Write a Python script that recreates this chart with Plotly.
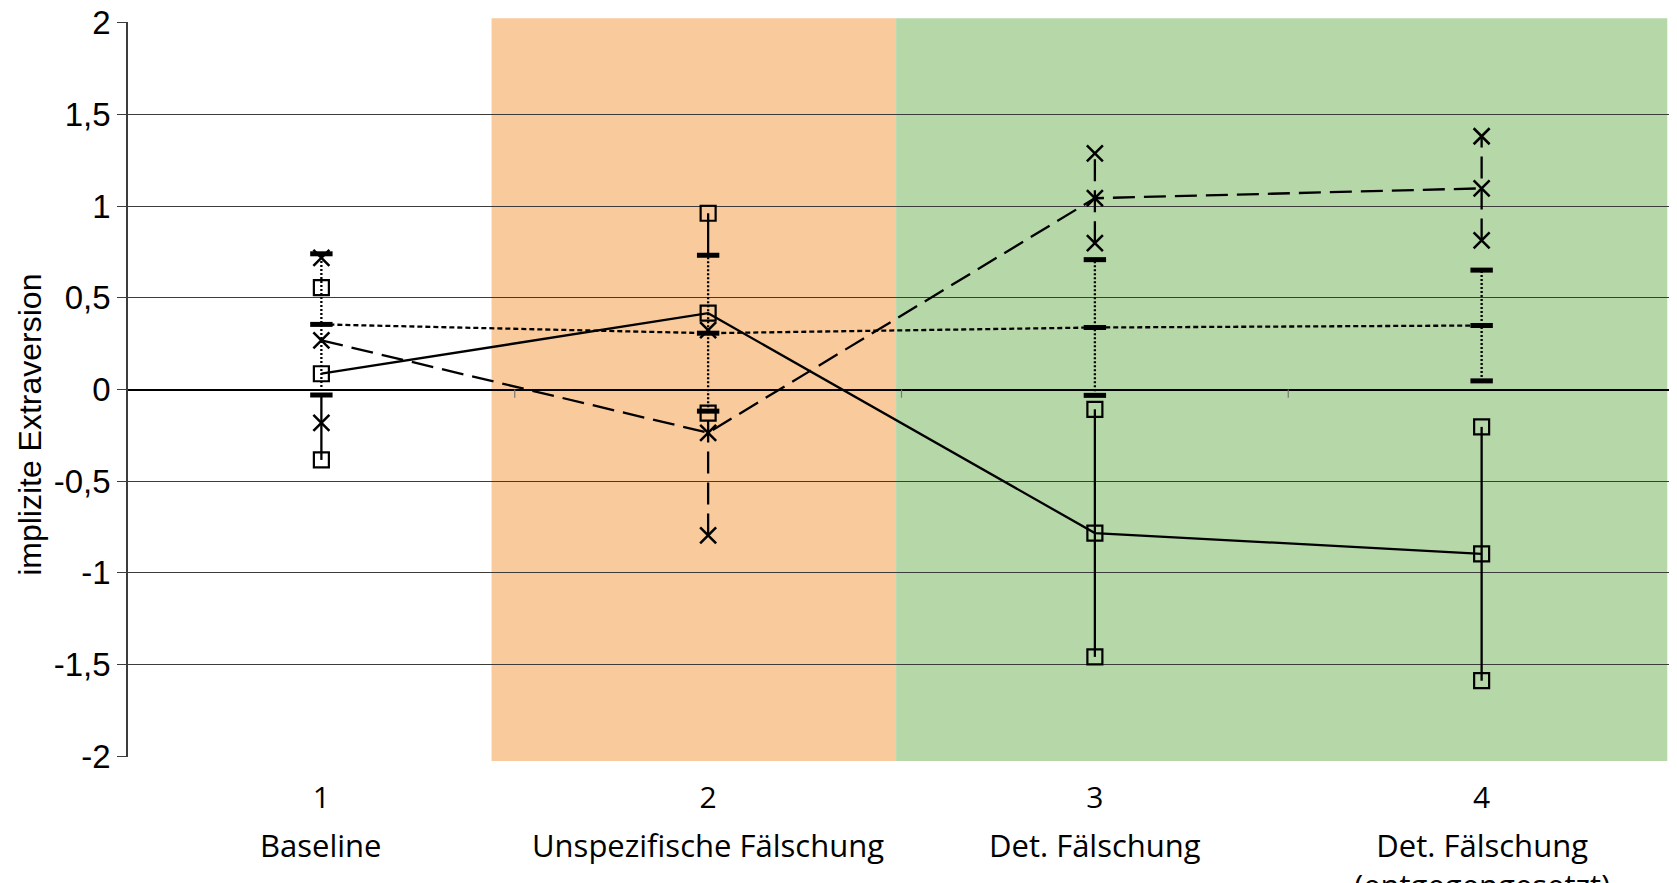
import plotly.graph_objects as go

# conditions on the x axis
categories = [1, 2, 3, 4]
category_names = ["Baseline", "Unspezifische Fälschung", "Det. Fälschung",
                  "Det. Fälschung<br>(entgegengesetzt)"]

# three groups: mean and (symmetric) error per condition
solid_mean = [0.086, 0.416, -0.783, -0.896]
solid_err = [0.47, 0.545, 0.675, 0.692]
dotted_mean = [0.355, 0.307, 0.338, 0.349]
dotted_err = [0.385, 0.425, 0.37, 0.302]
dashed_mean = [0.268, -0.236, 1.043, 1.097]
dashed_err = [0.45, 0.56, 0.245, 0.284]

y_tick_vals = [-2, -1.5, -1, -0.5, 0, 0.5, 1, 1.5, 2]
y_tick_text = ["-2", "-1,5", "-1", "-0,5", "0", "0,5", "1", "1,5", "2"]

# shaded phases (x range in category units)
phases = [(1.44, 2.486, "#f9cb9c"), (2.486, 4.48, "#b6d7a8")]

GRID = "#3c3c3c"
TICK_FONT = "Liberation Sans, Arial, sans-serif"
CAT_FONT = "Open Sans, DejaVu Sans, sans-serif"


def subtract(interval, covers):
    """Remove covered ranges from an interval, return the visible pieces."""
    pieces = [interval]
    for c0, c1 in covers:
        new = []
        for a, b in pieces:
            if c1 <= a or c0 >= b:
                new.append((a, b))
                continue
            if a < c0:
                new.append((a, c0))
            if c1 < b:
                new.append((c1, b))
        pieces = new
    return pieces


# series style, listed from top-most to bottom-most error bar
series = [
    dict(mean=dotted_mean, err=dotted_err, dash="5px,3px", bar_dash="2px,2px",
         symbol="line-ew-open", size=16, mlw=5),
    dict(mean=solid_mean, err=solid_err, dash="solid", bar_dash="solid",
         symbol="square-open", size=15, mlw=2.2),
    dict(mean=dashed_mean, err=dashed_err, dash="22px,9px", bar_dash="22px,9px",
         symbol="x-thin-open", size=16, mlw=2.5),
]

# visible parts of each error bar (upper series hide the ones below)
covers = {c: [] for c in categories}
for s in series:
    xs, ys = [], []
    for c, m, e in zip(categories, s["mean"], s["err"]):
        for a, b in subtract((m - e, m + e), covers[c]):
            xs += [c, c, None]
            ys += [a, b, None]
        covers[c].append((m - e, m + e))
    s["bar_x"], s["bar_y"] = xs, ys

fig = go.Figure()

for s in reversed(series):
    fig.add_trace(go.Scatter(
        x=s["bar_x"], y=s["bar_y"], mode="lines",
        line=dict(color="black", width=2.3, dash=s["bar_dash"]),
        hoverinfo="skip", showlegend=False,
    ))

for s in reversed(series):
    fig.add_trace(go.Scatter(
        x=categories, y=s["mean"], mode="lines+markers",
        line=dict(color="black", width=2.3, dash=s["dash"]),
        marker=dict(symbol=s["symbol"], size=s["size"], color="black",
                    line=dict(color="black", width=s["mlw"])),
        showlegend=False,
    ))
    ends_x = categories + categories
    ends_y = [m + e for m, e in zip(s["mean"], s["err"])] + \
             [m - e for m, e in zip(s["mean"], s["err"])]
    fig.add_trace(go.Scatter(
        x=ends_x, y=ends_y, mode="markers",
        marker=dict(symbol=s["symbol"], size=s["size"], color="black",
                    line=dict(color="black", width=s["mlw"])),
        showlegend=False,
    ))

# background phases
for x0, x1, col in phases:
    fig.add_shape(type="rect", xref="x", yref="paper", x0=x0, x1=x1,
                  y0=-0.0055, y1=1.005, fillcolor=col, line_width=0,
                  layer="below")

# small ticks on the zero line between the conditions
for b in [1.5, 2.5, 3.5]:
    fig.add_shape(type="line", xref="x", yref="y", x0=b, x1=b, y0=0, y1=-0.045,
                  line=dict(color="#777777", width=1.2))

# condition names under the numbers
for c, name in zip(categories, category_names):
    fig.add_annotation(x=c, y=-0.089, xref="x", yref="paper", text=name,
                       showarrow=False, yanchor="top",
                       font=dict(family=CAT_FONT, size=31, color="black"))

# y axis title, sits a little below the middle of the axis
fig.add_annotation(x=-0.0633, y=0.452, xref="paper", yref="paper",
                   text="implizite Extraversion", textangle=-90,
                   showarrow=False, xanchor="center", yanchor="middle",
                   font=dict(family=TICK_FONT, size=32, color="black"))

fig.update_layout(
    width=1677, height=883,
    margin=dict(l=120, r=10, t=14, b=134),
    plot_bgcolor="white", paper_bgcolor="white",
    showlegend=False,
    xaxis=dict(
        range=[0.5, 4.5], tickvals=categories,
        ticktext=[str(c) for c in categories],
        showgrid=False, zeroline=False, showline=False, ticks="",
        ticklabelstandoff=20, automargin=False,
        tickfont=dict(family=CAT_FONT, size=30, color="black"),
    ),
    yaxis=dict(
        range=[-2.004, 2.004], tickvals=y_tick_vals, ticktext=y_tick_text,
        showgrid=True, gridcolor=GRID, gridwidth=1,
        zeroline=True, zerolinecolor="black", zerolinewidth=1.5,
        showline=True, linecolor=GRID, linewidth=1.5,
        ticks="outside", ticklen=9, tickcolor=GRID, tickwidth=1,
        ticklabeloverflow="allow", automargin=False,
        tickfont=dict(family=TICK_FONT, size=33, color="black"),
    ),
)

fig.write_html("out.html")
